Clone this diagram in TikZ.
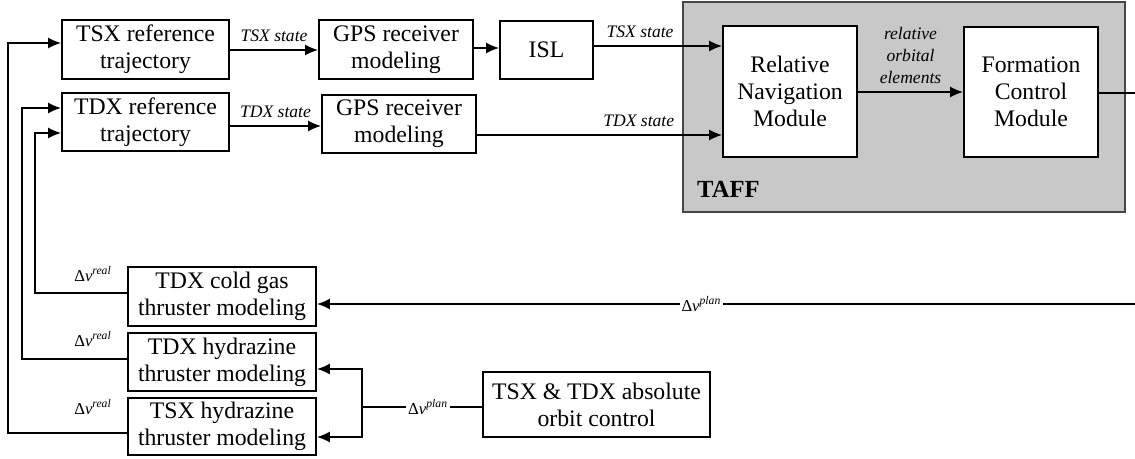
\documentclass[tikz,border=0pt]{standalone}
\usepackage{fontspec}
\setmainfont{Liberation Serif}
\usepackage{tikz}
\usetikzlibrary{arrows.meta}
\tikzset{>={Latex[length=2.6mm,width=2.2mm]}}
\tikzset{block/.style={draw,line width=1pt,fill=white,align=center,inner sep=0pt,font=\fontsize{13.5}{15.5}\selectfont}}
\tikzset{sig/.style={align=center,font=\fontsize{10}{12.5}\selectfont\itshape}}
\tikzset{dv/.style={fill=white,inner sep=1pt,font=\fontsize{9.5}{10}\selectfont}}
\tikzset{flow/.style={line width=1pt}}
\definecolor{taffgray}{RGB}{200,200,200}
\definecolor{taffline}{RGB}{70,70,70}
\newcommand*{\dvplan}{Δ\textit{v}\textsuperscript{\textit{plan}}}
\newcommand*{\dvreal}{Δ\textit{v}\textsuperscript{\textit{real}}}

\begin{document}
\begin{tikzpicture}[x=0.02cm,y=-0.02cm]
    \useasboundingbox(0,0)rectangle(1135,459);
    \node[draw=taffline,line width=1.2pt,fill=taffgray,minimum width=8.84cm,minimum height=4.2cm](taff)at(904,107){};
    \node[anchor=base west,font=\fontsize{14}{16}\selectfont\bfseries](taffname)at(691,197){TAFF};
    \node[block,minimum width=3.34cm,minimum height=1.18cm](tsxref)at(145.5,49.5){TSX reference\\trajectory};
    \node[block,minimum width=3.34cm,minimum height=1.16cm](tdxref)at(145.5,122){TDX reference\\trajectory};
    \node[block,minimum width=3.08cm,minimum height=1.18cm](gpsa)at(396,49.5){GPS receiver\\modeling};
    \node[block,minimum width=3.08cm,minimum height=1.16cm](gpsb)at(399,124){GPS receiver\\modeling};
    \node[block,minimum width=1.86cm,minimum height=1.16cm](isl)at(546.5,50){ISL};
    \node[block,minimum width=2.68cm,minimum height=2.62cm](relnav)at(790,91.5){Relative\\Navigation\\Module};
    \node[block,minimum width=2.68cm,minimum height=2.6cm](formctl)at(1031,92){Formation\\Control\\Module};
    \node[block,minimum width=3.76cm,minimum height=1.18cm](coldgas)at(222,296.5){TDX cold gas\\thruster modeling};
    \node[block,minimum width=3.76cm,minimum height=1.16cm](hydtdx)at(222,362){TDX hydrazine\\thruster modeling};
    \node[block,minimum width=3.76cm,minimum height=1.14cm](hydtsx)at(222,426.5){TSX hydrazine\\thruster modeling};
    \node[block,minimum width=4.54cm,minimum height=1.3cm](absorb)at(596.5,404.5){TSX \& TDX absolute\\orbit control};
    \coordinate(fcout)at(1135,93);
    \coordinate(planin)at(1135,304);
    \coordinate(split)at(362,407);
    \draw[flow,->](tsxref.east|-0,50)--node[sig,above=1pt]{TSX state}(gpsa.west|-0,50);
    \draw[flow,->](tdxref.east|-0,126)--node[sig,above=1pt]{TDX state}(gpsb.west|-0,126);
    \draw[flow,->](gpsa.east|-0,48)--(isl.west|-0,48);
    \draw[flow,->](isl.east|-0,46)--node[sig,above=1pt,pos=0.36]{TSX state}(relnav.west|-0,46);
    \draw[flow,->](gpsb.east|-0,135)--node[sig,above=1pt,pos=0.66]{TDX state}(relnav.west|-0,135);
    \draw[flow,->](relnav.east|-0,92)--node[sig,above=1pt]{relative\\orbital\\elements}(formctl.west|-0,92);
    \draw[flow](formctl.east|-0,93)--(fcout);
    \draw[flow,->](planin)--node[dv,pos=0.53]{\dvplan}(coldgas.east|-0,304);
    \draw[flow](absorb.west|-0,407)--node[dv,pos=0.45]{\dvplan}(split);
    \draw[flow,->](split)|-(hydtdx.east|-0,369);
    \draw[flow,->](split)|-(hydtsx.east|-0,437);
    \draw[flow,->](coldgas.west|-0,293)-|(35,133)--(tdxref.west|-0,133);
    \draw[flow,->](hydtdx.west|-0,359)-|(22,108)--(tdxref.west|-0,108);
    \draw[flow,->](hydtsx.west|-0,433)-|(8,43)--(tsxref.west|-0,43);
    \node[dv,fill=none](dvra)at(93,274){\dvreal};
    \node[dv,fill=none](dvrb)at(93,339){\dvreal};
    \node[dv,fill=none](dvrc)at(93,407){\dvreal};
\end{tikzpicture}
\end{document}
